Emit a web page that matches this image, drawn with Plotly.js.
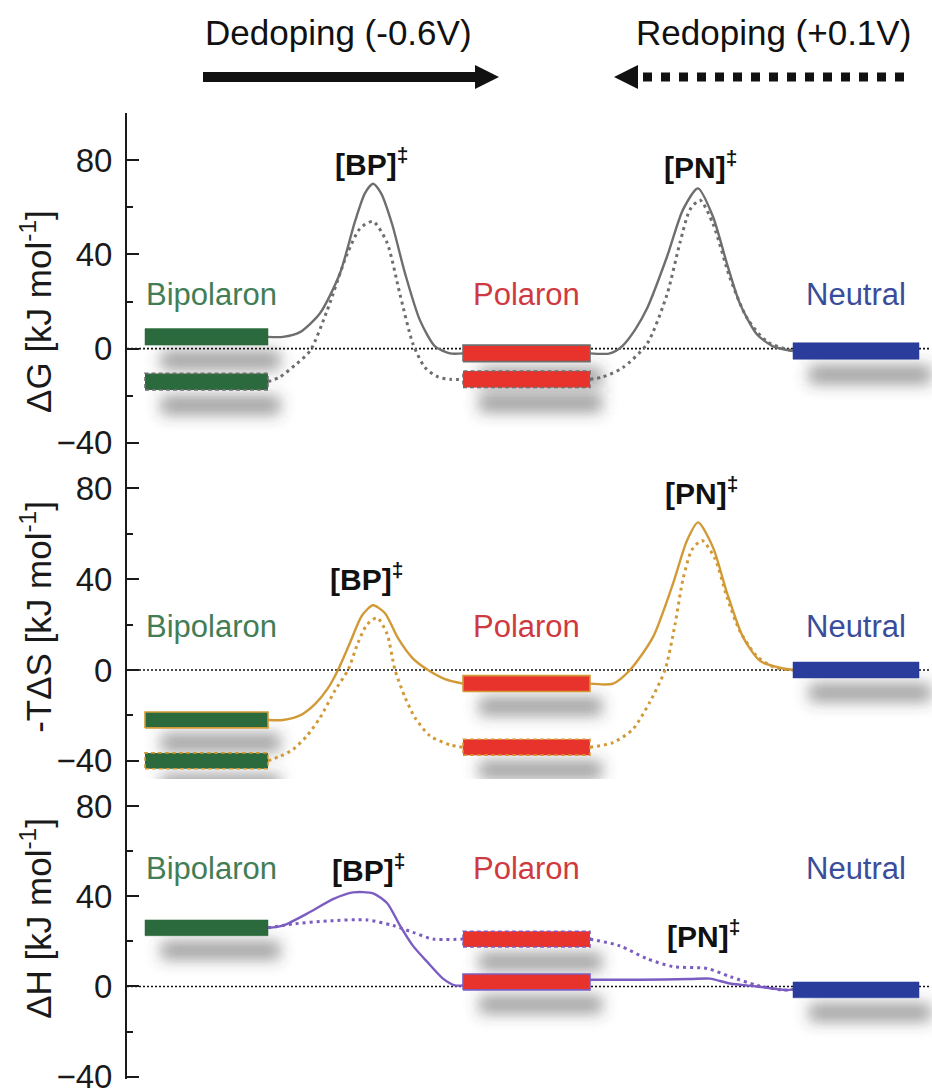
<!DOCTYPE html>
<html>
<head>
<meta charset="utf-8">
<script src="https://cdn.plot.ly/plotly-3.0.1.min.js"></script>
<style>html,body{margin:0;padding:0;background:#fff;}#chart{width:932px;height:1092px;}</style>
</head>
<body>
<div id="chart"></div>
<script>
// ---------- data ----------
const stateNames = ['Bipolaron', 'Polaron', 'Neutral'];
const stateStart = [145, 463, 793];
const stateEnd   = [268, 590, 919];

// ΔG panel
const dGsolidLevels = [5, -2, -1];
const dGdotLevels   = [-14, -13];
const dGsolidX1 = [268, 283, 300, 320, 340, 355, 365, 373, 381, 392, 405, 420, 435, 450, 463];
const dGsolidY1 = [5, 5, 7, 15, 32, 54, 66, 70, 66, 53, 32, 12, 1, -2, -2];
const dGdotX1 = [268, 280, 295, 310, 327, 347, 360, 373, 387, 400, 413, 425, 438, 450, 463];
const dGdotY1 = [-14, -12, -7, -1, 16, 40, 51, 54, 45, 23, 2, -8, -12, -13, -13];
const dGsolidX2 = [590, 610, 622, 635, 647, 667, 683, 698, 713, 727, 740, 757, 773, 793];
const dGsolidY2 = [-2, -2, 1, 8, 17, 39, 59, 68, 56, 36, 19, 6, 1, -1];
const dGdotX2 = [590, 603, 623, 647, 667, 680, 690, 700, 713, 730, 747, 767, 793];
const dGdotY2 = [-13, -12, -8, 2, 23, 45, 59, 63, 53, 30, 13, 3, -1];

// -TΔS panel
const TdSsolidLevels = [-22, -6, 0];
const TdSdotLevels   = [-40, -34];
const TdSsolidX1 = [268, 283, 300, 315, 328, 338, 350, 362, 373, 385, 398, 413, 428, 445, 463];
const TdSsolidY1 = [-22, -22, -20, -15, -8, 0, 12, 24, 28.5, 25, 14, 5, 0, -4, -6];
const TdSdotX1 = [268, 280, 293, 307, 320, 335, 348, 358, 367, 377, 387, 395, 405, 415, 430, 450, 463];
const TdSdotY1 = [-40, -38, -35, -29, -21, -9, 0, 12, 20, 23, 16, 0, -12, -21, -29, -33, -34];
const TdSsolidX2 = [590, 613, 630, 653, 673, 687, 698, 713, 727, 743, 760, 780, 793];
const TdSsolidY2 = [-6, -6, 0, 14.5, 38, 57, 65, 54, 34, 14.5, 4, 1, 0];
const TdSdotX2 = [590, 613, 633, 650, 665, 675, 683, 692, 702, 715, 727, 740, 757, 775, 793];
const TdSdotY2 = [-34, -32, -26, -14, 0, 20, 40, 53, 57, 49, 32, 17, 6, 1, 0];

// ΔH panel
const dHsolidLevels = [26, 2, -1.5];
const dHdotLevels   = [26, 21];
const dHsolidX1 = [268, 283, 310, 333, 353, 373, 387, 400, 413, 427, 443, 455, 463];
const dHsolidY1 = [26, 27, 33, 38.7, 41.7, 41.3, 37, 27, 18, 11, 3.5, 0.5, 0.5];
const dHdotX1 = [268, 293, 327, 367, 393, 413, 433, 463];
const dHdotY1 = [26, 27.7, 29, 29.5, 27, 24, 21, 21];
const dHsolidX2 = [590, 640, 690, 710, 730, 757, 787, 793];
const dHsolidY2 = [3, 3, 3.3, 3.5, 1.3, 0, -1.6, -1.3];
const dHdotX2 = [590, 620, 647, 673, 707, 730, 757, 783, 793];
const dHdotY2 = [21, 18, 12.3, 8.8, 8, 4.4, 0.5, -1.6, -1.3];

const yTickVals = [-40, 0, 40, 80];
const panelTitles = ['ΔG [kJ mol<sup>-1</sup>]', '-TΔS [kJ mol<sup>-1</sup>]', 'ΔH [kJ mol<sup>-1</sup>]'];
const tsLabels = ['[BP]', '[PN]'];
const tsX = [[333, 662], [328, 663], [330, 665]];
const tsY = [[79, 78], [41, 79], [52.7, 23.3]];
const stateLabelY = [23, 19, 52.5];
const dedopingText = 'Dedoping (-0.6V)';
const redopingText = 'Redoping (+0.1V)';

// ---------- style ----------
const FONT = 'Liberation Sans, Arial, Helvetica, sans-serif';
const grey = '#6e6e6e', orange = '#d29a37', purple = '#7b5dc2';
const barFill = ['#2b6a3c', '#e8322c', '#2a3d9c'];
const labelColor = ['#437d55', '#cf3a41', '#3a4d9a'];
const shadowColor = 'rgba(61,61,61,0.5)';
const halfH = 3.5;
const dotDash = '3px,4px';

const traces = [];
const panels = [
  {axis: 'y',  color: grey,   solid: dGsolidLevels,  dot: dGdotLevels,
   curves: [[dGsolidX1, dGsolidY1, 'solid'], [dGdotX1, dGdotY1, 'dot'], [dGsolidX2, dGsolidY2, 'solid'], [dGdotX2, dGdotY2, 'dot']],
   outlineGreen: false},
  {axis: 'y2', color: orange, solid: TdSsolidLevels, dot: TdSdotLevels,
   curves: [[TdSsolidX1, TdSsolidY1, 'solid'], [TdSdotX1, TdSdotY1, 'dot'], [TdSsolidX2, TdSsolidY2, 'solid'], [TdSdotX2, TdSdotY2, 'dot']],
   outlineGreen: true},
  {axis: 'y3', color: purple, solid: dHsolidLevels,  dot: dHdotLevels,
   curves: [[dHsolidX1, dHsolidY1, 'solid'], [dHdotX1, dHdotY1, 'dot'], [dHsolidX2, dHsolidY2, 'solid'], [dHdotX2, dHdotY2, 'dot']],
   outlineGreen: false}
];

function shadow(i, v, axis) {
  const x0 = stateStart[i] + 16, x1 = stateEnd[i] + 12;
  const c = v - 10, h = 4;
  traces.push({type: 'scatter', mode: 'lines', xaxis: 'x', yaxis: axis,
    x: [x0, x1, x1, x0, x0], y: [c - h, c - h, c + h, c + h, c - h],
    fill: 'toself', fillcolor: shadowColor, line: {width: 0}, hoverinfo: 'skip', showlegend: false});
}
function bar(i, v, axis, outline, dash) {
  const x0 = stateStart[i], x1 = stateEnd[i];
  traces.push({type: 'scatter', mode: 'lines', xaxis: 'x', yaxis: axis,
    x: [x0, x1, x1, x0, x0], y: [v - halfH, v - halfH, v + halfH, v + halfH, v - halfH],
    fill: 'toself', fillcolor: barFill[i],
    line: {color: outline || barFill[i], width: outline ? 1.6 : 0.5, dash: dash || 'solid'},
    hoverinfo: 'skip', showlegend: false});
}

panels.forEach((p) => {
  traces.push({type: 'scatter', mode: 'lines', xaxis: 'x', yaxis: p.axis, x: [127, 929], y: [0, 0],
    line: {color: '#111', width: 1.6, dash: '2px,2px'}, hoverinfo: 'skip', showlegend: false});
  p.solid.forEach((v, i) => shadow(i, v, p.axis));
  p.dot.forEach((v, i) => { if (v !== p.solid[i]) shadow(i, v, p.axis); });
  p.curves.forEach(([xs, ys, kind]) => {
    traces.push({type: 'scatter', mode: 'lines', xaxis: 'x', yaxis: p.axis, x: xs, y: ys,
      line: {color: p.color, width: kind === 'dot' ? 3 : 2.4, dash: kind === 'dot' ? dotDash : 'solid', shape: 'spline', smoothing: 0.7},
      hoverinfo: 'skip', showlegend: false});
  });
  p.solid.forEach((v, i) => {
    const outl = (i === 2) ? null : (i === 0 && !p.outlineGreen) ? null : p.color;
    bar(i, v, p.axis, outl, 'solid');
  });
  p.dot.forEach((v, i) => { if (v !== p.solid[i]) bar(i, v, p.axis, p.color, '4px,3px'); });
});

// ---------- layout ----------
// pixel rows of the values 100 and -40 for each panel, and the lower end of each range
const panelPx = [[113, 443], [443, 761], [761, 1077]];
const rangeMin = [-48, -48, -41];
const plotTop = 113;
const scaleOf = k => (panelPx[k][1] - panelPx[k][0]) / 140;
const pxBottom = k => panelPx[k][1] + (-40 - rangeMin[k]) * scaleOf(k);
const plotBottom = pxBottom(2);
const plotH = plotBottom - plotTop;
const yp = py => (plotBottom - py) / plotH;

function yax(k) {
  return {domain: [Math.max(0, yp(pxBottom(k))), Math.min(1, yp(panelPx[k][0]))], range: [rangeMin[k], 100], anchor: 'x',
    showline: true, linecolor: '#1a1a1a', linewidth: 2,
    showgrid: false, zeroline: false, tickmode: 'array', tickvals: yTickVals,
    ticks: 'inside', ticklen: 12, tickwidth: 2, tickcolor: '#1a1a1a', ticklabelstandoff: 6,
    ticklabeloverflow: 'allow',
    tickfont: {family: FONT, size: 33, color: '#1a1a1a'},
    minor: {tickmode: 'linear', tick0: 0, dtick: 20, ticks: 'inside', ticklen: 6, tickwidth: 2, tickcolor: '#1a1a1a', showgrid: false},
    fixedrange: true};
}

const annotations = [];
const axesNames = ['y', 'y2', 'y3'];
const titleCenters = [yp(312), yp(617), yp(919)];
panelTitles.forEach((t, k) => {
  annotations.push({xref: 'paper', yref: 'paper', x: (36 - 127) / 805, y: titleCenters[k], text: t, textangle: -90,
    showarrow: false, xanchor: 'center', yanchor: 'middle', font: {family: FONT, size: 35, color: '#1a1a1a'}});
  stateNames.forEach((n, i) => {
    annotations.push({xref: 'x', yref: axesNames[k], x: (stateStart[i] + stateEnd[i]) / 2 + (i === 0 ? 5 : 0), y: stateLabelY[k],
      text: n, showarrow: false, xanchor: 'center', yanchor: 'middle', font: {family: FONT, size: 31, color: labelColor[i]}});
  });
  tsLabels.forEach((t2, j) => {
    annotations.push({xref: 'x', yref: axesNames[k], x: tsX[k][j], y: tsY[k][j],
      text: '<b>' + t2 + '</b><sup><b>‡</b></sup>', showarrow: false, xanchor: 'left', yanchor: 'middle',
      font: {family: FONT, size: 30, color: '#111'}});
  });
});
annotations.push({xref: 'x', yref: 'paper', x: 338, y: yp(32), text: dedopingText, showarrow: false,
  xanchor: 'center', yanchor: 'middle', font: {family: FONT, size: 35, color: '#111'}});
annotations.push({xref: 'x', yref: 'paper', x: 773, y: yp(32), text: redopingText, showarrow: false,
  xanchor: 'center', yanchor: 'middle', font: {family: FONT, size: 35, color: '#111'}});

const ay = yp(77), ayT = yp(65), ayB = yp(89);
const shapes = [
  {type: 'line', xref: 'x', yref: 'paper', x0: 203, x1: 477, y0: ay, y1: ay, line: {color: '#111', width: 10}},
  {type: 'path', xref: 'x', yref: 'paper', path: `M 475 ${ayT} L 499 ${ay} L 475 ${ayB} Z`, fillcolor: '#111', line: {width: 0}},
  {type: 'line', xref: 'x', yref: 'paper', x0: 643, x1: 913, y0: ay, y1: ay, line: {color: '#111', width: 9, dash: '9px,9px'}},
  {type: 'path', xref: 'x', yref: 'paper', path: `M 638 ${ayT} L 614 ${ay} L 638 ${ayB} Z`, fillcolor: '#111', line: {width: 0}}
];

const layout = {
  width: 932, height: 1092,
  margin: {l: 127, r: 0, t: plotTop, b: 1092 - plotBottom},
  paper_bgcolor: '#fff', plot_bgcolor: 'rgba(0,0,0,0)',
  showlegend: false,
  xaxis: {range: [127, 932], visible: false, fixedrange: true, anchor: 'y3'},
  yaxis: yax(0),
  yaxis2: yax(1),
  yaxis3: yax(2),
  annotations: annotations,
  shapes: shapes
};

function softenShadows() {
  const svg = document.querySelector('#chart .main-svg');
  if (!svg) return;
  const NS = 'http://www.w3.org/2000/svg';
  let defs = svg.querySelector('defs');
  if (!defs) { defs = document.createElementNS(NS, 'defs'); svg.insertBefore(defs, svg.firstChild); }
  if (!svg.querySelector('#barShadowBlur')) {
    const f = document.createElementNS(NS, 'filter');
    f.setAttribute('id', 'barShadowBlur');
    f.setAttribute('x', '-40%'); f.setAttribute('y', '-500%');
    f.setAttribute('width', '180%'); f.setAttribute('height', '1100%');
    const g = document.createElementNS(NS, 'feGaussianBlur');
    g.setAttribute('stdDeviation', '7.5');
    f.appendChild(g); defs.appendChild(f);
  }
  document.querySelectorAll('#chart path.js-fill').forEach(p => {
    const fill = (p.style.fill || '').replace(/\s/g, '');
    if (fill.indexOf('61,61,61') >= 0) p.setAttribute('filter', 'url(#barShadowBlur)');
  });
}

Plotly.newPlot('chart', traces, layout, {displayModeBar: false, staticPlot: true}).then(softenShadows);
</script>
</body>
</html>
